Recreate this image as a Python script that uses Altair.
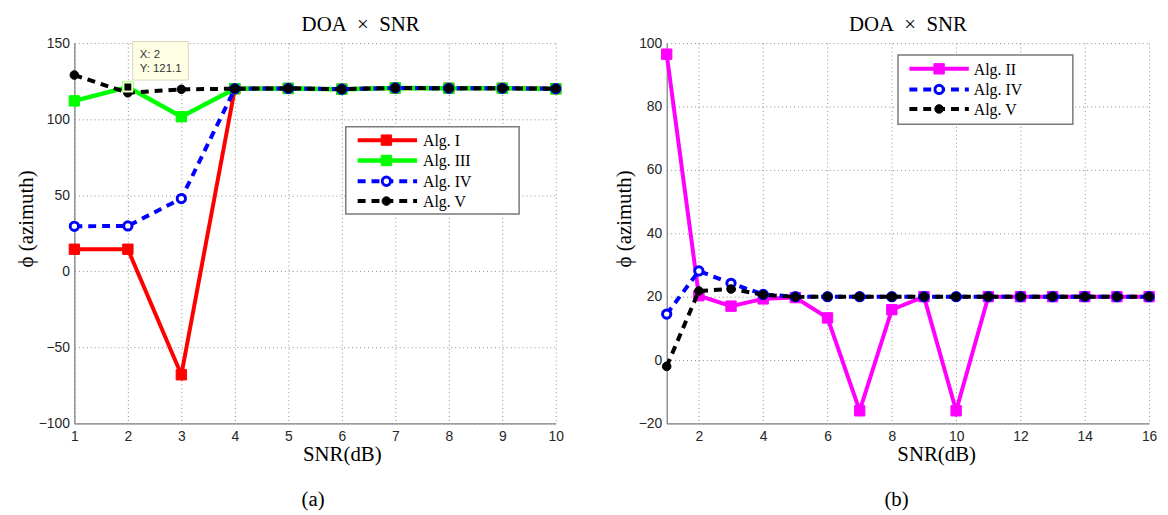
import altair as alt
import pandas as pd

# ---------------- data ----------------
snr_a = [1, 2, 3, 4, 5, 6, 7, 8, 9, 10]
alg1_a = [14.5, 14.5, -68, 120, 120.2, 119.7, 120.5, 120.3, 120.3, 120]
alg3_a = [112, 121.1, 101.6, 120, 120.2, 119.7, 120.5, 120.3, 120.3, 119.9]
alg4_a = [29.6, 29.8, 47.8, 120, 120.2, 119.7, 120.5, 120.3, 120.3, 120]
alg5_a = [129, 117.3, 119.6, 120, 120.2, 119.7, 120.5, 120.3, 120.3, 120]

snr_b = [1, 2, 3, 4, 5, 6, 7, 8, 9, 10, 11, 12, 13, 14, 15, 16]
alg2_b = [96.5, 20.3, 17, 19.3, 19.7, 13.3, -16, 15.9, 20, -16, 20, 20, 20, 20, 20, 20]
alg4_b = [14.5, 28.1, 24.2, 20.7, 20, 20, 20, 20, 20, 20, 20, 20, 20, 20, 20, 20]
alg5_b = [-2, 21.8, 22.4, 20.6, 19.9, 20, 20, 20, 20, 20, 20, 20, 20, 20, 20, 20]

xticks_a = [1, 2, 3, 4, 5, 6, 7, 8, 9, 10]
yticks_a = [-100, -50, 0, 50, 100, 150]
xticks_b = [2, 4, 6, 8, 10, 12, 14, 16]
yticks_b = [-20, 0, 20, 40, 60, 80, 100]

tip_x = [2]
tip_y = [121.1]

# ---------------- styles ----------------
STY = {
    "Alg. I": dict(color="#ff0000", dash=None, lw=4, shape="square", size=110, fill="#ff0000", sw=1),
    "Alg. II": dict(color="#ff00ff", dash=None, lw=4, shape="square", size=110, fill="#ff00ff", sw=1),
    "Alg. III": dict(color="#00ff00", dash=None, lw=4.5, shape="square", size=110, fill="#00ff00", sw=1),
    "Alg. IV": dict(color="#0000ff", dash=[8, 6], lw=4, shape="circle", size=70, fill="#ffffff", sw=3),
    "Alg. V": dict(color="#000000", dash=[8, 6], lw=4, shape="circle", size=75, fill="#000000", sw=1),
}

SERIF = "Liberation Serif"
SANS = "Liberation Sans"
W_A, W_B, H = 486, 487, 384


def axes(xt, yt, xtitle_x, ytitle_x):
    ax = alt.Axis(values=xt, grid=True, gridDash=[1, 3], gridColor="#8a8a8a", gridWidth=1,
                  domainColor="#808080", domainWidth=1.3, ticks=False,
                  labelFont=SANS, labelFontSize=14, labelColor="#262626", labelPadding=6,
                  labelFlush=False, title="SNR(dB)", titleFont=SERIF, titleFontSize=21,
                  titleFontWeight="normal", titleColor="#000000", titleX=xtitle_x, titleY=37,
                  titleBaseline="alphabetic", titleAlign="center")
    ay = alt.Axis(values=yt, grid=True, gridDash=[1, 3], gridColor="#8a8a8a", gridWidth=1,
                  domainColor="#808080", domainWidth=1.3, ticks=False,
                  labelFont=SANS, labelFontSize=14, labelColor="#262626", labelPadding=5,
                  labelFlush=False, title="ϕ (azimuth)", titleFont=SERIF, titleFontSize=21,
                  titleFontWeight="normal", titleColor="#000000", titleX=ytitle_x, titleY=177,
                  titleAngle=-90, titleBaseline="alphabetic", titleAlign="center")
    return ax, ay


def panel(xs, series, xdom, ydom, xt, yt, w, xtitle_x, ytitle_x, title_x, cap, cap_x,
          leg_box, leg_rows, leg_x0, leg_x1, leg_mx, leg_tx, tip=False):
    ax, ay = axes(xt, yt, xtitle_x, ytitle_x)
    xs_ = alt.Scale(domain=xdom, nice=False, zero=False)
    ys_ = alt.Scale(domain=ydom, nice=False, zero=False)

    def enc(ch):
        return ch.encode(x=alt.X("snr:Q", scale=xs_, axis=ax),
                         y=alt.Y("phi:Q", scale=ys_, axis=ay))

    layers = []
    for name, vals in series:
        s = STY[name]
        df = pd.DataFrame({"snr": xs, "phi": vals, "alg": name})
        lk = dict(color=s["color"], strokeWidth=s["lw"])
        if s["dash"]:
            lk["strokeDash"] = s["dash"]
        layers.append(enc(alt.Chart(df).mark_line(**lk)))
        layers.append(enc(alt.Chart(df).mark_point(shape=s["shape"], size=s["size"], filled=True,
                                                   fill=s["fill"], stroke=s["color"],
                                                   strokeWidth=s["sw"], opacity=1)))
    if tip:
        tdf = pd.DataFrame({"snr": tip_x, "phi": tip_y,
                            "l1": [f"X: {tip_x[0]}"], "l2": [f"Y: {tip_y[0]}"]})
        tb = alt.Chart(tdf)
        layers.append(enc(tb.mark_point(shape="square", size=80, filled=True, fill="#000000",
                                        stroke="#ffffd2", strokeWidth=2, opacity=1)))
        layers.append(tb.mark_rect(fill="#ffffe4", stroke="#d8d8c0", strokeWidth=1,
                                   xOffset=5, x2Offset=61, yOffset=-46, y2Offset=-7).encode(
            x=alt.X("snr:Q", scale=xs_, axis=ax), x2="snr:Q",
            y=alt.Y("phi:Q", scale=ys_, axis=ay), y2="phi:Q"))
        layers.append(enc(tb.mark_text(align="left", baseline="alphabetic", dx=12, dy=-29,
                                       font=SANS, fontSize=11.5, color="#333333")).encode(text="l1:N"))
        layers.append(enc(tb.mark_text(align="left", baseline="alphabetic", dx=12, dy=-15,
                                       font=SANS, fontSize=11.5, color="#333333")).encode(text="l2:N"))

    # legend
    one = pd.DataFrame({"k": [0]})
    layers.append(alt.Chart(one).mark_rect(fill="#ffffff", stroke="#7a7a7a", strokeWidth=1.5).encode(
        x=alt.value(leg_box[0]), x2=alt.value(leg_box[1]),
        y=alt.value(leg_box[2]), y2=alt.value(leg_box[3])))
    for (name, _), ry in zip(series, leg_rows):
        s = STY[name]
        rk = dict(color=s["color"], strokeWidth=s["lw"])
        if s["dash"]:
            rk["strokeDash"] = s["dash"]
        ldf = pd.DataFrame({"label": [name]})
        lc = alt.Chart(ldf)
        layers.append(lc.mark_rule(**rk).encode(x=alt.value(leg_x0), x2=alt.value(leg_x1),
                                                y=alt.value(ry)))
        layers.append(lc.mark_point(shape=s["shape"], size=s["size"], filled=True, fill=s["fill"],
                                    stroke=s["color"], strokeWidth=s["sw"], opacity=1).encode(
            x=alt.value(leg_mx), y=alt.value(ry)))
        layers.append(lc.mark_text(align="left", baseline="middle", font=SERIF, fontSize=16,
                                   color="#000000").encode(
            x=alt.value(leg_tx), y=alt.value(ry + 1), text="label:N"))

    # title and caption
    tdf2 = pd.DataFrame({"t": ["DOA\u2002×\u2002SNR"]})
    layers.append(alt.Chart(tdf2).mark_text(font=SERIF, fontSize=21, align="center",
                                            baseline="alphabetic", color="#000000").encode(
        x=alt.value(title_x), y=alt.value(-12.5), text="t:N"))
    cdf = pd.DataFrame({"t": [cap]})
    layers.append(alt.Chart(cdf).mark_text(font=SERIF, fontSize=21, align="center",
                                           baseline="alphabetic", color="#000000").encode(
        x=alt.value(cap_x), y=alt.value(467), text="t:N"))

    return alt.layer(*layers).properties(width=w, height=H)


pa = panel(snr_a, [("Alg. I", alg1_a), ("Alg. III", alg3_a), ("Alg. IV", alg4_a), ("Alg. V", alg5_a)],
           [1, 10], [-100, 150], xticks_a, yticks_a, W_A, 270, -42, 289, "(a)", 241,
           (274, 449, 84.5, 172.5), [98, 118.5, 139.5, 159.5], 286, 346, 315, 352, tip=True)

pb = panel(snr_b, [("Alg. II", alg2_b), ("Alg. IV", alg4_b), ("Alg. V", alg5_b)],
           [1, 16], [-20, 100], xticks_b, yticks_b, W_B, 272, -37, 243.5, "(b)", 232,
           (233.5, 410, 12, 82), [26, 46.8, 66.5], 245, 305, 275, 310)

chart = alt.hconcat(pa, pb, spacing=47).properties(
    padding={"left": 8, "top": 3, "right": 0, "bottom": 0}
).configure_view(stroke=None)

chart.save("out.html", embed_options={"renderer": "svg", "actions": False})
